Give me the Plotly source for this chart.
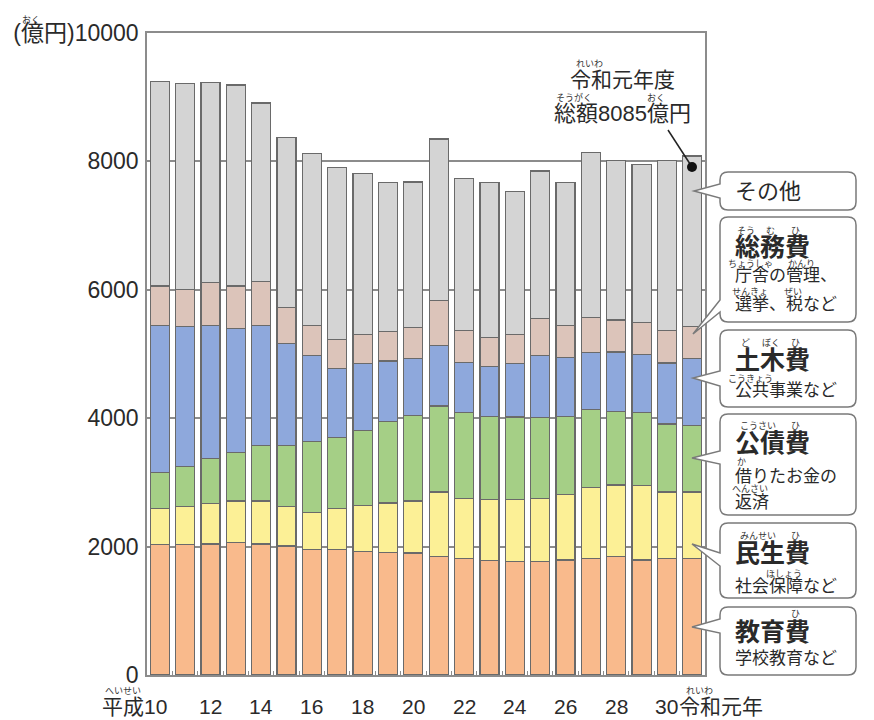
import plotly.graph_objects as go

# ---------------- data ----------------
categories = ["平成10年", "平成11年", "平成12年", "平成13年", "平成14年", "平成15年",
              "平成16年", "平成17年", "平成18年", "平成19年", "平成20年", "平成21年",
              "平成22年", "平成23年", "平成24年", "平成25年", "平成26年", "平成27年",
              "平成28年", "平成29年", "平成30年", "令和元年"]

kyoiku = [2030, 2030, 2040, 2060, 2040, 2010, 1950, 1950, 1920, 1910, 1900,
          1850, 1820, 1780, 1770, 1770, 1790, 1820, 1840, 1790, 1820, 1820]   # 教育費
minsei = [560, 600, 630, 650, 670, 620, 580, 640, 720, 770, 810,
          1000, 930, 950, 960, 980, 1020, 1100, 1120, 1160, 1030, 1030]       # 民生費
kosai = [560, 620, 700, 760, 860, 950, 1110, 1110, 1170, 1270, 1330,
         1340, 1340, 1300, 1290, 1260, 1220, 1220, 1150, 1140, 1060, 1040]    # 公債費
doboku = [2300, 2180, 2080, 1930, 1870, 1580, 1340, 1080, 1040, 940, 890,
          940, 780, 770, 830, 970, 910, 880, 920, 900, 950, 1040]             # 土木費
somu = [610, 570, 660, 660, 690, 570, 470, 450, 460, 460, 480,
        700, 490, 460, 460, 570, 510, 550, 500, 500, 510, 500]                # 総務費
sonota = [3180, 3210, 3120, 3130, 2780, 2640, 2670, 2680, 2500, 2320, 2270,
          2520, 2370, 2410, 2220, 2300, 2220, 2570, 2480, 2460, 2640, 2655]   # その他

series_names = ["教育費", "民生費", "公債費", "土木費", "総務費", "その他"]
series_values = [kyoiku, minsei, kosai, doboku, somu, sonota]
series_colors = ["#F9BA8C", "#FCF096", "#A5CF86", "#8EA8DC", "#DCC4BA", "#D4D4D4"]

x_label_idx = [0, 2, 4, 6, 8, 10, 12, 14, 16, 18, 20]
x_labels = ["10", "12", "14", "16", "18", "20", "22", "24", "26", "28", "30"]
y_tick_vals = [0, 2000, 4000, 6000, 8000, 10000]
y_tick_text = ["0", "2000", "4000", "6000", "8000", "(億円)10000"]

# ---------------- layout helpers ----------------
L, R, T, B = 147, 705, 33, 675
W, H = 874, 720
FONT = "Liberation Sans, Noto Sans CJK JP, sans-serif"
JFONT = "Noto Sans CJK JP, sans-serif"
TXT = "#2a2a2a"


def px(x):
    return (x - L) / (R - L)


def py(y):
    return (B - y) / (B - T)


annotations = []
shapes = []


def txt(s, x, y, size, anchor="left", bold=False, family=FONT, color=TXT):
    annotations.append(dict(text=s, x=px(x), y=py(y), xref="paper", yref="paper",
                            xanchor=anchor, yanchor="middle", showarrow=False,
                            font=dict(size=size, family=family, color=color,
                                      weight="bold" if bold else "normal")))


def ruby(s, x, y):
    txt(s, x, y, 9, anchor="center", family=JFONT, color="#333333")


fig = go.Figure()
for name, vals, col in zip(series_names, series_values, series_colors):
    fig.add_trace(go.Bar(x=categories, y=vals, name=name,
                         marker=dict(color=col, line=dict(color="#6a6a6a", width=1.2)),
                         hoverinfo="x+y+name"))

# x labels
XS = 21
for i, lab in zip(x_label_idx, x_labels):
    if i == 0:
        annotations.append(dict(text="平成10", x=categories[i], y=0, xref="x", yref="y",
                                xanchor="right", yanchor="middle", xshift=9, yshift=-31,
                                showarrow=False, font=dict(size=XS, family=FONT, color=TXT)))
    else:
        annotations.append(dict(text=lab, x=categories[i], y=0, xref="x", yref="y",
                                xanchor="center", yanchor="middle", yshift=-31,
                                showarrow=False, font=dict(size=XS, family=FONT, color=TXT)))
annotations.append(dict(text="令和元年", x=categories[-1], y=0, xref="x", yref="y",
                        xanchor="left", yanchor="middle", xshift=-15, yshift=-31,
                        showarrow=False, font=dict(size=XS, family=FONT, color=TXT)))
ruby("へいせい", 123, 690)
ruby("れいわ", 699, 690)
ruby("おく", 31, 19)

# top annotation
txt("令和元年度", 568, 80, 21)
ruby("れいわ", 589, 63)
txt("総額8085億円", 552, 113, 22)
ruby("そうがく", 574, 98)
ruby("おく", 656, 98)
shapes.append(dict(type="line", xref="paper", yref="paper",
                   x0=px(668), y0=py(130), x1=px(692), y1=py(167),
                   line=dict(color="#222222", width=1.5)))
shapes.append(dict(type="circle", xref="paper", yref="paper",
                   x0=px(687), y0=py(162), x1=px(697), y1=py(172),
                   fillcolor="#111111", line=dict(color="#111111", width=0)))


# callout boxes
def callout(x0, y0, x1, y1, yb0, yb1, tx, ty, r=8):
    pts = []
    pts.append(f"M{px(x0)},{py(y0 + r)}")
    pts.append(f"L{px(x0)},{py(yb0)}")
    pts.append(f"L{px(tx)},{py(ty)}")
    pts.append(f"L{px(x0)},{py(yb1)}")
    pts.append(f"L{px(x0)},{py(y1 - r)}")
    pts.append(f"Q{px(x0)},{py(y1)} {px(x0 + r)},{py(y1)}")
    pts.append(f"L{px(x1 - r)},{py(y1)}")
    pts.append(f"Q{px(x1)},{py(y1)} {px(x1)},{py(y1 - r)}")
    pts.append(f"L{px(x1)},{py(y0 + r)}")
    pts.append(f"Q{px(x1)},{py(y0)} {px(x1 - r)},{py(y0)}")
    pts.append(f"L{px(x0 + r)},{py(y0)}")
    pts.append(f"Q{px(x0)},{py(y0)} {px(x0)},{py(y0 + r)}")
    pts.append("Z")
    shapes.append(dict(type="path", xref="paper", yref="paper", path=" ".join(pts),
                       fillcolor="white", line=dict(color="#7a7a7a", width=1.5)))


BX0, BX1 = 720, 856
callout(BX0, 172, BX1, 210, 184, 198, 694, 191)
callout(BX0, 217, BX1, 322, 300, 312, 693, 334)
callout(BX0, 330, BX1, 407, 371, 386, 693, 378)
callout(BX0, 414, BX1, 515, 451, 464, 692, 458)
callout(BX0, 523, BX1, 598, 553, 566, 692, 544)
callout(BX0, 607, BX1, 675, 619, 633, 692, 627)

TX = 733
TS = 25   # title size
DS = 17   # description size
c = lambda k: TX + TS * (k + 0.5)
d = lambda k: TX + DS * (k + 0.5)

txt("その他", TX, 191, 22)

ruby("そう", c(0), 230); ruby("む", c(1), 230); ruby("ひ", c(2), 230)
txt("総務費", TX, 247, TS, bold=True)
ruby("ちょうしゃ", (d(0) + d(1)) / 2, 263); ruby("かんり", (d(3) + d(4)) / 2, 263)
txt("庁舎の管理、", TX, 275, DS)
ruby("せんきょ", (d(0) + d(1)) / 2, 291); ruby("ぜい", d(3), 291)
txt("選挙、税など", TX, 304, DS)

ruby("ど", c(0), 342); ruby("ぼく", c(1), 342); ruby("ひ", c(2), 342)
txt("土木費", TX, 360, TS, bold=True)
ruby("こうきょう", (d(0) + d(1)) / 2, 378)
txt("公共事業など", TX, 390, DS)

ruby("こうさい", (c(0) + c(1)) / 2, 425); ruby("ひ", c(2), 425)
txt("公債費", TX, 443, TS, bold=True)
ruby("か", d(0), 461)
txt("借りたお金の", TX, 476, DS)
ruby("へんさい", (d(0) + d(1)) / 2, 488)
txt("返済", TX, 502, DS)

ruby("みんせい", (c(0) + c(1)) / 2, 535); ruby("ひ", c(2), 535)
txt("民生費", TX, 553, TS, bold=True)
ruby("ほしょう", (d(2) + d(3)) / 2, 573)
txt("社会保障など", TX, 586, DS)

ruby("ひ", c(2), 613)
txt("教育費", TX, 632, TS, bold=True)
txt("学校教育など", TX, 658, DS)

fig.update_layout(
    barmode="stack",
    bargap=0.25,
    width=W, height=H,
    margin=dict(l=L, r=W - R, t=T, b=H - B, pad=0, autoexpand=False),
    paper_bgcolor="white",
    plot_bgcolor="white",
    showlegend=False,
    font=dict(family=FONT, color=TXT),
    annotations=annotations,
    shapes=shapes,
    xaxis=dict(type="category", range=[-0.5, len(categories) - 0.5],
               autorange=False, showticklabels=False, tickson="boundaries",
               ticks="inside", ticklen=4, tickcolor="#8c8c8c", tickwidth=1,
               showgrid=False, showline=True, mirror=True,
               linecolor="#8c8c8c", linewidth=1.5, fixedrange=True),
    yaxis=dict(range=[0, 10000], autorange=False,
               tickvals=y_tick_vals, ticktext=y_tick_text,
               tickfont=dict(size=23, family=FONT, color=TXT),
               ticks="", ticklabelstandoff=2,
               showgrid=True, gridcolor="#8c8c8c", gridwidth=1.5,
               zeroline=False, showline=True, mirror=True,
               linecolor="#8c8c8c", linewidth=1.5, fixedrange=True),
)

fig.write_html("out.html", config={"displayModeBar": False},
               post_script="document.body.style.margin='0';"
               "document.body.style.overflow='hidden';")
